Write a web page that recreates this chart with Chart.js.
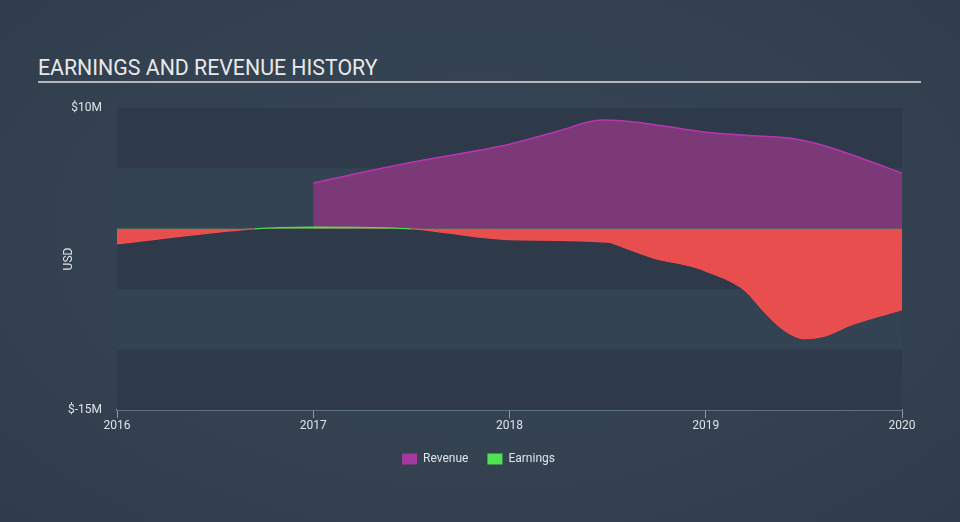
<!DOCTYPE html>
<html>
<head>
<meta charset="utf-8">
<script src="https://cdn.jsdelivr.net/npm/chart.js@4.4.0/dist/chart.umd.min.js"></script>
<style>
  html, body { margin: 0; padding: 0; }
  body {
    width: 960px; height: 522px; overflow: hidden; position: relative;
    background: radial-gradient(ellipse at 50% 45%, #364656 0%, #334151 60%, #303c4b 100%);
    font-family: Roboto, sans-serif;
  }
  #title {
    position: absolute; left: 38px; top: 55px; width: 883px;
    color: #e8e8e8; font-size: 21.3px; line-height: 25px;
    border-bottom: 2px solid #b4b8bd; padding-bottom: 1px;
  }
  #wrap { position: absolute; left: 0; top: 0; width: 960px; height: 522px; }
</style>
</head>
<body>
<div id="title">EARNINGS AND REVENUE HISTORY</div>
<div id="wrap"><canvas id="chart"></canvas></div>
<script>
// values in $M, x as fractional year
const revenueYears  = [2017.0, 2017.5, 2018.0, 2018.25, 2018.47, 2018.6, 2018.75, 2019.0, 2019.25, 2019.45, 2019.6, 2019.8, 2020.0];
const revenueValues = [3.8,    5.5,    7.0,    8.1,     9.0,     8.9,    8.6,     8.0,    7.7,     7.45,    6.9,    5.8,    4.6];

const earningsYears  = [2016.0, 2016.7, 2017.0, 2017.5, 2017.85, 2018.0, 2018.5, 2018.6, 2018.75, 2018.9, 2019.0, 2019.2, 2019.3, 2019.4, 2019.5, 2019.6, 2019.75, 2020.0];
const earningsValues = [-1.25,  0,      0.15,   0,      -0.7,    -0.9,   -1.1,   -1.65,  -2.5,    -3.0,   -3.5,   -5.1,   -6.9,   -8.4,   -9.1,   -8.9,   -7.9,    -6.7];

const yTicksShown = { 10: '$10M', '-15': '$-15M' };
const xLabels = ['2016', '2017', '2018', '2019', '2020'];

const BG_DARK = '#2e3a49';
const BG_LIGHT = '#344354';

const bands = {
  id: 'bands',
  beforeDatasetsDraw(chart) {
    const { ctx, chartArea, scales: { y } } = chart;
    ctx.save();
    for (let v = 10; v > -15; v -= 5) {
      const top = y.getPixelForValue(v);
      const bottom = y.getPixelForValue(v - 5);
      ctx.fillStyle = ((10 - v) / 5) % 2 === 0 ? BG_DARK : BG_LIGHT;
      ctx.fillRect(chartArea.left, top, chartArea.right - chartArea.left, bottom - top);
    }
    ctx.restore();
  }
};

const pts = (xs, ys) => xs.map((x, i) => ({ x: x, y: ys[i] }));

new Chart(document.getElementById('chart'), {
  type: 'line',
  data: {
    datasets: [
      {
        label: 'Earnings',
        data: pts(earningsYears, earningsValues),
        borderColor: '#f0504f',
        borderWidth: 1.2,
        segment: {
          borderColor: c => (c.p0.parsed.y > 0 || c.p1.parsed.y > 0) ? '#4fe34f' : '#f0504f'
        },
        fill: { target: 'origin', above: '#4fe34f', below: '#e94e4e' },
        cubicInterpolationMode: 'monotone',
        pointRadius: 0,
        order: 1
      },
      {
        label: 'Revenue',
        data: pts(revenueYears, revenueValues),
        borderColor: '#b836ad',
        borderWidth: 1.5,
        backgroundColor: '#7b3a77',
        fill: 'origin',
        cubicInterpolationMode: 'monotone',
        pointRadius: 0,
        order: 2
      }
    ]
  },
  options: {
    responsive: true,
    maintainAspectRatio: false,
    animation: false,
    layout: { padding: { left: 55, right: 58, top: 108, bottom: 47 } },
    scales: {
      x: {
        type: 'linear',
        min: 2016, max: 2020,
        afterFit: s => { s.height = 24; },
        border: { display: true, color: '#8a9aad', width: 1.5 },
        grid: { drawOnChartArea: false, drawTicks: true, tickLength: 8, color: '#8a9aad' },
        ticks: {
          stepSize: 1, padding: 1,
          color: '#dfe3e8', font: { family: 'Roboto', size: 12 },
          callback: v => xLabels[v - 2016] || ''
        }
      },
      y: {
        min: -15, max: 10,
        afterFit: s => { s.width = 62; },
        border: { display: false },
        grid: { display: false, drawTicks: false },
        ticks: {
          stepSize: 5, padding: 15,
          color: '#dfe3e8', font: { family: 'Roboto', size: 12 },
          callback: v => yTicksShown[v] || ''
        },
        title: {
          display: true, text: 'USD', color: '#dfe3e8',
          font: { family: 'Roboto', size: 12 }, padding: 7
        }
      }
    },
    plugins: {
      title: { display: false },
      tooltip: { enabled: false },
      legend: {
        position: 'bottom',
        reverse: true,
        labels: {
          boxWidth: 15, boxHeight: 11, padding: 19,
          color: '#dfe3e8', font: { family: 'Roboto', size: 12 },
          generateLabels: chart => chart.data.datasets.map((d, i) => ({
            text: d.label,
            fillStyle: d.label === 'Revenue' ? '#a43a9f' : '#4fe34f',
            strokeStyle: 'transparent',
            lineWidth: 0,
            fontColor: '#dfe3e8',
            datasetIndex: i
          }))
        }
      }
    }
  },
  plugins: [bands]
});
</script>
</body>
</html>
